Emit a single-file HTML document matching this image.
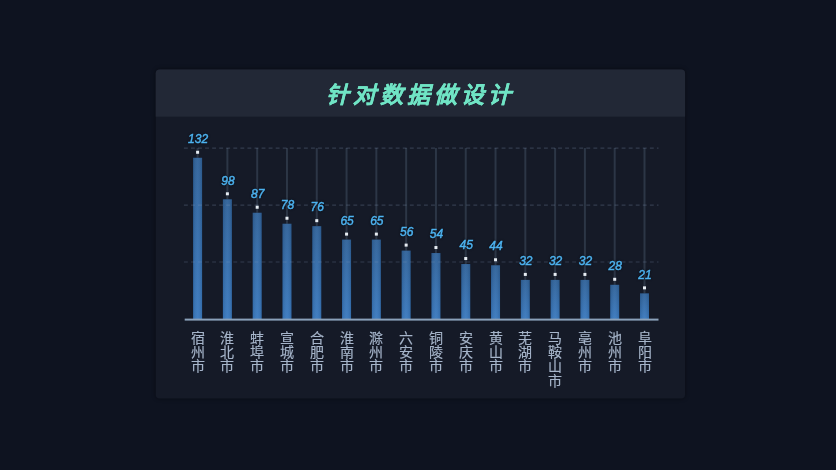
<!DOCTYPE html>
<html lang="zh-CN"><head><meta charset="utf-8">
<style>
html,body{margin:0;padding:0;}
body{width:836px;height:470px;background:#0e1320;position:relative;overflow:hidden;font-family:"Liberation Sans",sans-serif;}
.title{position:absolute;left:156px;top:71px;width:529px;height:48px;line-height:48px;text-align:center;color:#70e4c5;-webkit-text-stroke:0.2px #70e4c5;font-size:23px;font-weight:bold;font-style:italic;letter-spacing:4px;will-change:transform;}
svg{position:absolute;left:0;top:0;}
.wrap{position:absolute;left:0;top:0;width:836px;height:470px;}
.nums text{font-family:"Liberation Sans",sans-serif;font-size:12px;font-style:italic;font-weight:normal;fill:#4db3f0;stroke:#4db3f0;stroke-width:0.45px;text-anchor:middle;}
.cats{position:absolute;left:0;top:0;width:836px;height:470px;will-change:transform;}
.cat{position:absolute;top:331px;width:20px;text-align:center;color:#a6b5ca;font-size:14px;line-height:14.2px;-webkit-text-stroke:0.15px #a6b5ca;}
</style></head><body>
<div class="wrap"><svg width="836" height="470" viewBox="0 0 836 470" style="filter:drop-shadow(0 0 2px rgba(0,0,0,0.45))"><defs><clipPath id="pc"><rect x="155.7" y="69.5" width="529.4" height="329" rx="4"/></clipPath></defs><g clip-path="url(#pc)"><rect x="155" y="69" width="531" height="331" fill="#151a27"/><rect x="155" y="69" width="531" height="47.7" fill="#222836"/></g></svg><div class="title">针对数据做设计</div>
<svg width="836" height="470" viewBox="0 0 836 470"><defs><linearGradient id="bg" x1="0" y1="0" x2="0" y2="1"><stop offset="0" stop-color="#2e6199"/><stop offset="1" stop-color="#3878be"/></linearGradient><linearGradient id="hl" x1="0" y1="0" x2="1" y2="0"><stop offset="0" stop-color="#000" stop-opacity="0.10"/><stop offset="0.5" stop-color="#fff" stop-opacity="0.05"/><stop offset="1" stop-color="#000" stop-opacity="0.10"/></linearGradient></defs><rect x="196.60" y="148" width="2" height="9.77" fill="#2c3646"/><rect x="193.10" y="157.77" width="9.0" height="161.23" fill="url(#bg)"/><rect x="193.10" y="157.77" width="9.0" height="161.23" fill="url(#hl)"/><rect x="196.10" y="150.77" width="3" height="3" fill="#e6ecf2"/><rect x="226.39" y="148" width="2" height="51.30" fill="#2c3646"/><rect x="222.89" y="199.30" width="9.0" height="119.70" fill="url(#bg)"/><rect x="222.89" y="199.30" width="9.0" height="119.70" fill="url(#hl)"/><rect x="225.89" y="192.30" width="3" height="3" fill="#e6ecf2"/><rect x="256.19" y="148" width="2" height="64.74" fill="#2c3646"/><rect x="252.69" y="212.74" width="9.0" height="106.26" fill="url(#bg)"/><rect x="252.69" y="212.74" width="9.0" height="106.26" fill="url(#hl)"/><rect x="255.69" y="205.74" width="3" height="3" fill="#e6ecf2"/><rect x="285.98" y="148" width="2" height="75.73" fill="#2c3646"/><rect x="282.48" y="223.73" width="9.0" height="95.27" fill="url(#bg)"/><rect x="282.48" y="223.73" width="9.0" height="95.27" fill="url(#hl)"/><rect x="285.48" y="216.73" width="3" height="3" fill="#e6ecf2"/><rect x="315.77" y="148" width="2" height="78.17" fill="#2c3646"/><rect x="312.27" y="226.17" width="9.0" height="92.83" fill="url(#bg)"/><rect x="312.27" y="226.17" width="9.0" height="92.83" fill="url(#hl)"/><rect x="315.27" y="219.17" width="3" height="3" fill="#e6ecf2"/><rect x="345.56" y="148" width="2" height="91.61" fill="#2c3646"/><rect x="342.06" y="239.61" width="9.0" height="79.39" fill="url(#bg)"/><rect x="342.06" y="239.61" width="9.0" height="79.39" fill="url(#hl)"/><rect x="345.06" y="232.61" width="3" height="3" fill="#e6ecf2"/><rect x="375.36" y="148" width="2" height="91.61" fill="#2c3646"/><rect x="371.86" y="239.61" width="9.0" height="79.39" fill="url(#bg)"/><rect x="371.86" y="239.61" width="9.0" height="79.39" fill="url(#hl)"/><rect x="374.86" y="232.61" width="3" height="3" fill="#e6ecf2"/><rect x="405.15" y="148" width="2" height="102.60" fill="#2c3646"/><rect x="401.65" y="250.60" width="9.0" height="68.40" fill="url(#bg)"/><rect x="401.65" y="250.60" width="9.0" height="68.40" fill="url(#hl)"/><rect x="404.65" y="243.60" width="3" height="3" fill="#e6ecf2"/><rect x="434.94" y="148" width="2" height="105.04" fill="#2c3646"/><rect x="431.44" y="253.04" width="9.0" height="65.96" fill="url(#bg)"/><rect x="431.44" y="253.04" width="9.0" height="65.96" fill="url(#hl)"/><rect x="434.44" y="246.04" width="3" height="3" fill="#e6ecf2"/><rect x="464.74" y="148" width="2" height="116.04" fill="#2c3646"/><rect x="461.24" y="264.04" width="9.0" height="54.96" fill="url(#bg)"/><rect x="461.24" y="264.04" width="9.0" height="54.96" fill="url(#hl)"/><rect x="464.24" y="257.04" width="3" height="3" fill="#e6ecf2"/><rect x="494.53" y="148" width="2" height="117.26" fill="#2c3646"/><rect x="491.03" y="265.26" width="9.0" height="53.74" fill="url(#bg)"/><rect x="491.03" y="265.26" width="9.0" height="53.74" fill="url(#hl)"/><rect x="494.03" y="258.26" width="3" height="3" fill="#e6ecf2"/><rect x="524.32" y="148" width="2" height="131.91" fill="#2c3646"/><rect x="520.82" y="279.91" width="9.0" height="39.09" fill="url(#bg)"/><rect x="520.82" y="279.91" width="9.0" height="39.09" fill="url(#hl)"/><rect x="523.82" y="272.91" width="3" height="3" fill="#e6ecf2"/><rect x="554.12" y="148" width="2" height="131.91" fill="#2c3646"/><rect x="550.62" y="279.91" width="9.0" height="39.09" fill="url(#bg)"/><rect x="550.62" y="279.91" width="9.0" height="39.09" fill="url(#hl)"/><rect x="553.62" y="272.91" width="3" height="3" fill="#e6ecf2"/><rect x="583.91" y="148" width="2" height="131.91" fill="#2c3646"/><rect x="580.41" y="279.91" width="9.0" height="39.09" fill="url(#bg)"/><rect x="580.41" y="279.91" width="9.0" height="39.09" fill="url(#hl)"/><rect x="583.41" y="272.91" width="3" height="3" fill="#e6ecf2"/><rect x="613.70" y="148" width="2" height="136.80" fill="#2c3646"/><rect x="610.20" y="284.80" width="9.0" height="34.20" fill="url(#bg)"/><rect x="610.20" y="284.80" width="9.0" height="34.20" fill="url(#hl)"/><rect x="613.20" y="277.80" width="3" height="3" fill="#e6ecf2"/><rect x="643.50" y="148" width="2" height="145.35" fill="#2c3646"/><rect x="640.00" y="293.35" width="9.0" height="25.65" fill="url(#bg)"/><rect x="640.00" y="293.35" width="9.0" height="25.65" fill="url(#hl)"/><rect x="643.00" y="286.35" width="3" height="3" fill="#e6ecf2"/><line x1="183.9" y1="148.2" x2="658.5" y2="148.2" stroke="rgba(140,160,190,0.25)" stroke-width="1.2" stroke-dasharray="3.9 3.16"/><line x1="183.9" y1="205.1" x2="658.5" y2="205.1" stroke="rgba(140,160,190,0.25)" stroke-width="1.2" stroke-dasharray="3.9 3.16"/><line x1="183.9" y1="262.0" x2="658.5" y2="262.0" stroke="rgba(140,160,190,0.25)" stroke-width="1.2" stroke-dasharray="3.9 3.16"/><rect x="184.7" y="318.6" width="473.8" height="2" fill="#8aa1ba"/></svg>
<svg class="nums" width="836" height="470" viewBox="0 0 836 470" style="will-change:transform;filter:drop-shadow(0 0 1px rgba(5,8,14,0.9))"><text x="198.10" y="142.97">132</text><text x="227.89" y="184.50">98</text><text x="257.69" y="197.94">87</text><text x="287.48" y="208.93">78</text><text x="317.27" y="211.37">76</text><text x="347.06" y="224.81">65</text><text x="376.86" y="224.81">65</text><text x="406.65" y="235.80">56</text><text x="436.44" y="238.24">54</text><text x="466.24" y="249.24">45</text><text x="496.03" y="250.46">44</text><text x="525.82" y="265.11">32</text><text x="555.62" y="265.11">32</text><text x="585.41" y="265.11">32</text><text x="615.20" y="270.00">28</text><text x="645.00" y="278.55">21</text></svg>
<div class="cats"><div class="cat" style="left:187.60px">宿<br>州<br>市</div><div class="cat" style="left:217.39px">淮<br>北<br>市</div><div class="cat" style="left:247.19px">蚌<br>埠<br>市</div><div class="cat" style="left:276.98px">宣<br>城<br>市</div><div class="cat" style="left:306.77px">合<br>肥<br>市</div><div class="cat" style="left:336.56px">淮<br>南<br>市</div><div class="cat" style="left:366.36px">滁<br>州<br>市</div><div class="cat" style="left:396.15px">六<br>安<br>市</div><div class="cat" style="left:425.94px">铜<br>陵<br>市</div><div class="cat" style="left:455.74px">安<br>庆<br>市</div><div class="cat" style="left:485.53px">黄<br>山<br>市</div><div class="cat" style="left:515.32px">芜<br>湖<br>市</div><div class="cat" style="left:545.12px">马<br>鞍<br>山<br>市</div><div class="cat" style="left:574.91px">亳<br>州<br>市</div><div class="cat" style="left:604.70px">池<br>州<br>市</div><div class="cat" style="left:634.50px">阜<br>阳<br>市</div></div></div>
</body></html>
